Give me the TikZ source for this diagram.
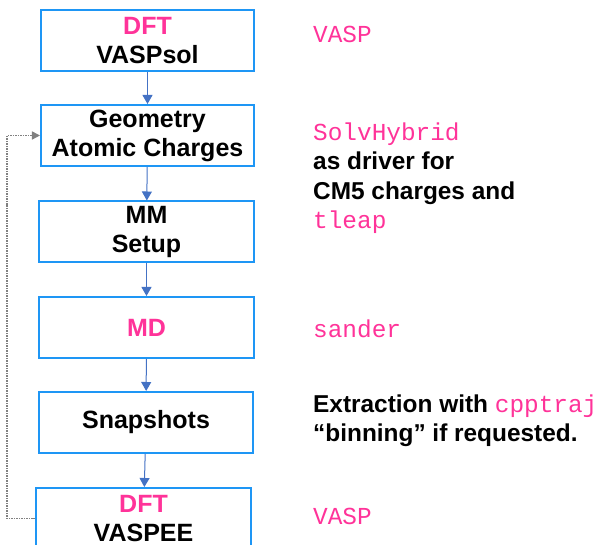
\documentclass[tikz,border=0pt]{standalone}
\usepackage{fontspec}
\setmainfont{Liberation Sans}
\setmonofont{Liberation Mono}
\usetikzlibrary{arrows.meta}
\definecolor{hotpink}{HTML}{FF3399}
\definecolor{boxblue}{HTML}{1E96F5}
\definecolor{arrowblue}{HTML}{4472C4}
\newcommand{\prog}[1]{{\mdseries\ttfamily\color{hotpink}#1}}
\begin{document}
\begin{tikzpicture}[x=1bp,y=1bp]
    \tikzstyle{stage}=[draw=boxblue,line width=2bp,fill=white,align=center,minimum width=213bp,minimum height=61bp,inner sep=0pt,font=\fontsize{25bp}{29bp}\selectfont\bfseries]
    \tikzstyle{note}=[anchor=base west,align=left,inner sep=0pt,font=\fontsize{24.4bp}{29.5bp}\selectfont\bfseries]
    \tikzstyle{flow}=[arrowblue,line width=1bp,-{Triangle[width=10bp,length=9bp]}]
    \tikzstyle{loop}=[gray,line width=1.5bp,densely dotted,-{Triangle[width=8bp,length=8bp]}]
    \clip (0,0) rectangle (603,545);
    \node (dft)  [stage] at (147.5,504)   {\textcolor{hotpink}{DFT}\\VASPsol};
    \node (geom) [stage] at (147.5,409.5) {Geometry\\Atomic Charges};
    \node (mm)   [stage,minimum width=215bp] at (146.5,313) {MM\\Setup};
    \node (md)   [stage,minimum width=215bp] at (146.5,217.5) {\textcolor{hotpink}{MD}};
    \node (snap) [stage,minimum width=214bp] at (146,122.5) {Snapshots};
    \node (vee)  [stage,minimum width=215bp] at (143.5,26.5) {\textcolor{hotpink}{DFT}\\VASPEE};
    \draw [flow] (dft) -- (geom);
    \draw [flow] (geom) -- (mm);
    \draw [flow] (mm) -- (md);
    \draw [flow] (md) -- (snap);
    \draw [flow] (snap) -- (vee);
    \draw [loop] (vee.west) -- ++(-28,0) |- (geom.west);
    \node (n1) [note] at (313,502) {\prog{VASP}};
    \node (n2) [note] at (313,316) {\prog{SolvHybrid}\\as driver for\\CM5 charges and\\\prog{tleap}};
    \node (n3) [note] at (313,207) {\prog{sander}};
    \node (n4) [note] at (313,103) {Extraction with \prog{cpptraj}\\``binning'' if requested.};
    \node (n5) [note] at (313,20)  {\prog{VASP}};
\end{tikzpicture}
\end{document}
